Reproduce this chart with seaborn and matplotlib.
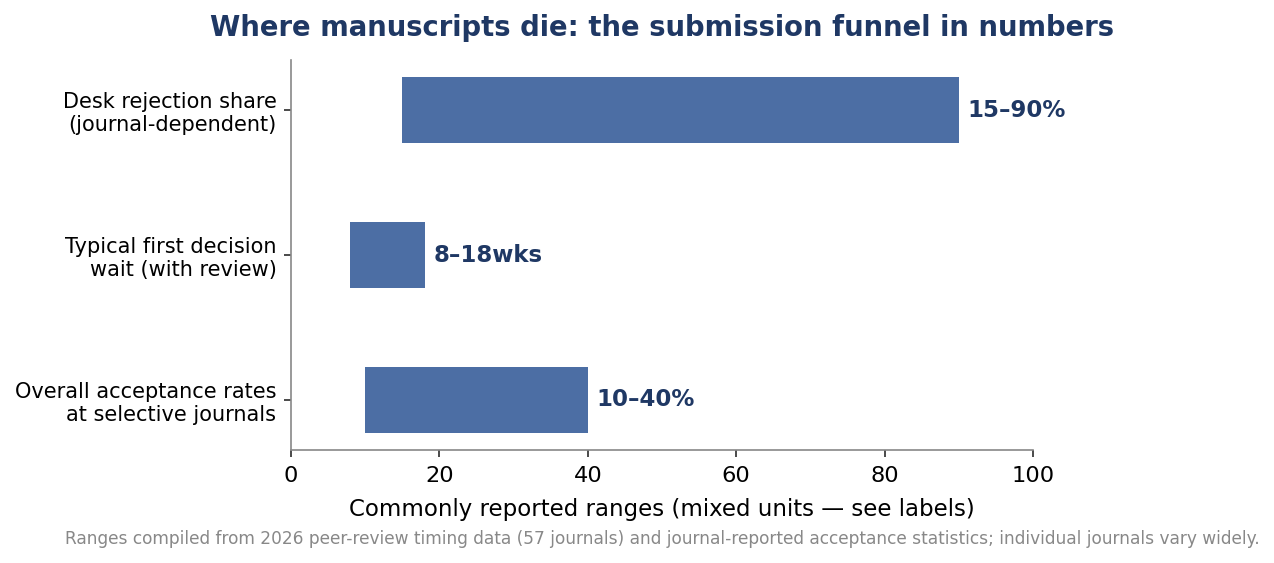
import matplotlib
matplotlib.use("Agg")
import matplotlib.pyplot as plt
import seaborn as sns
import pandas as pd

categories = ["Desk rejection share\n(journal-dependent)",
              "Typical first decision\nwait (with review)",
              "Overall acceptance rates\nat selective journals"]
range_low = [15, 8, 10]
range_high = [90, 18, 40]
value_labels = ["15–90%", "8–18wks", "10–40%"]
x_ticks = [0, 20, 40, 60, 80, 100]

sns.set_theme(style="white")
plt.rcParams['font.family'] = ['DejaVu Sans']

df = pd.DataFrame({"category": categories, "low": range_low, "high": range_high,
                   "label": value_labels})
df["span"] = df["high"] - df["low"]

fig = plt.figure(figsize=(12.74, 5.63), dpi=100)
ax = fig.add_axes([0.2284, 0.2007, 0.5824, 0.6927])

bar_color = "#4c6ea4"
navy = "#1f3864"
ypos = list(range(len(categories)))
ax.barh(ypos, df["span"], left=df["low"], height=0.45, color=bar_color, linewidth=0)
for y, (h, lab) in enumerate(zip(df["high"], df["label"])):
    ax.text(h + 1.2, y, lab, va="center", ha="left", fontsize=16.5,
            fontweight="bold", color=navy)

ax.set_yticks(ypos)
ax.set_yticklabels(categories, fontsize=15, color="black")
ax.set_ylim(2.345, -0.345)
ax.set_xlim(0, 100)
ax.set_xticks(x_ticks)
ax.tick_params(axis="x", labelsize=16.2, length=5, color="#333333", bottom=True,
               labelcolor="black", pad=6.5)
ax.tick_params(axis="y", length=5, color="#333333", left=True, pad=5.5)
for s in ["top", "right"]:
    ax.spines[s].set_visible(False)
for s in ["left", "bottom"]:
    ax.spines[s].set_color("#888888")
    ax.spines[s].set_linewidth(1.2)
ax.set_xlabel("Commonly reported ranges (mixed units — see labels)", fontsize=16.5,
              color="black", labelpad=8.5)
ax.set_title("Where manuscripts die: the submission funnel in numbers", fontsize=19.8,
             fontweight="bold", color=navy, pad=17.5)
fig.text(0.5196, 0.043,
         "Ranges compiled from 2026 peer-review timing data (57 journals) and journal-reported acceptance statistics; individual journals vary widely.",
         ha="center", va="center", fontsize=12.25, color="#888888")

fig.savefig("out.png", dpi=100)
